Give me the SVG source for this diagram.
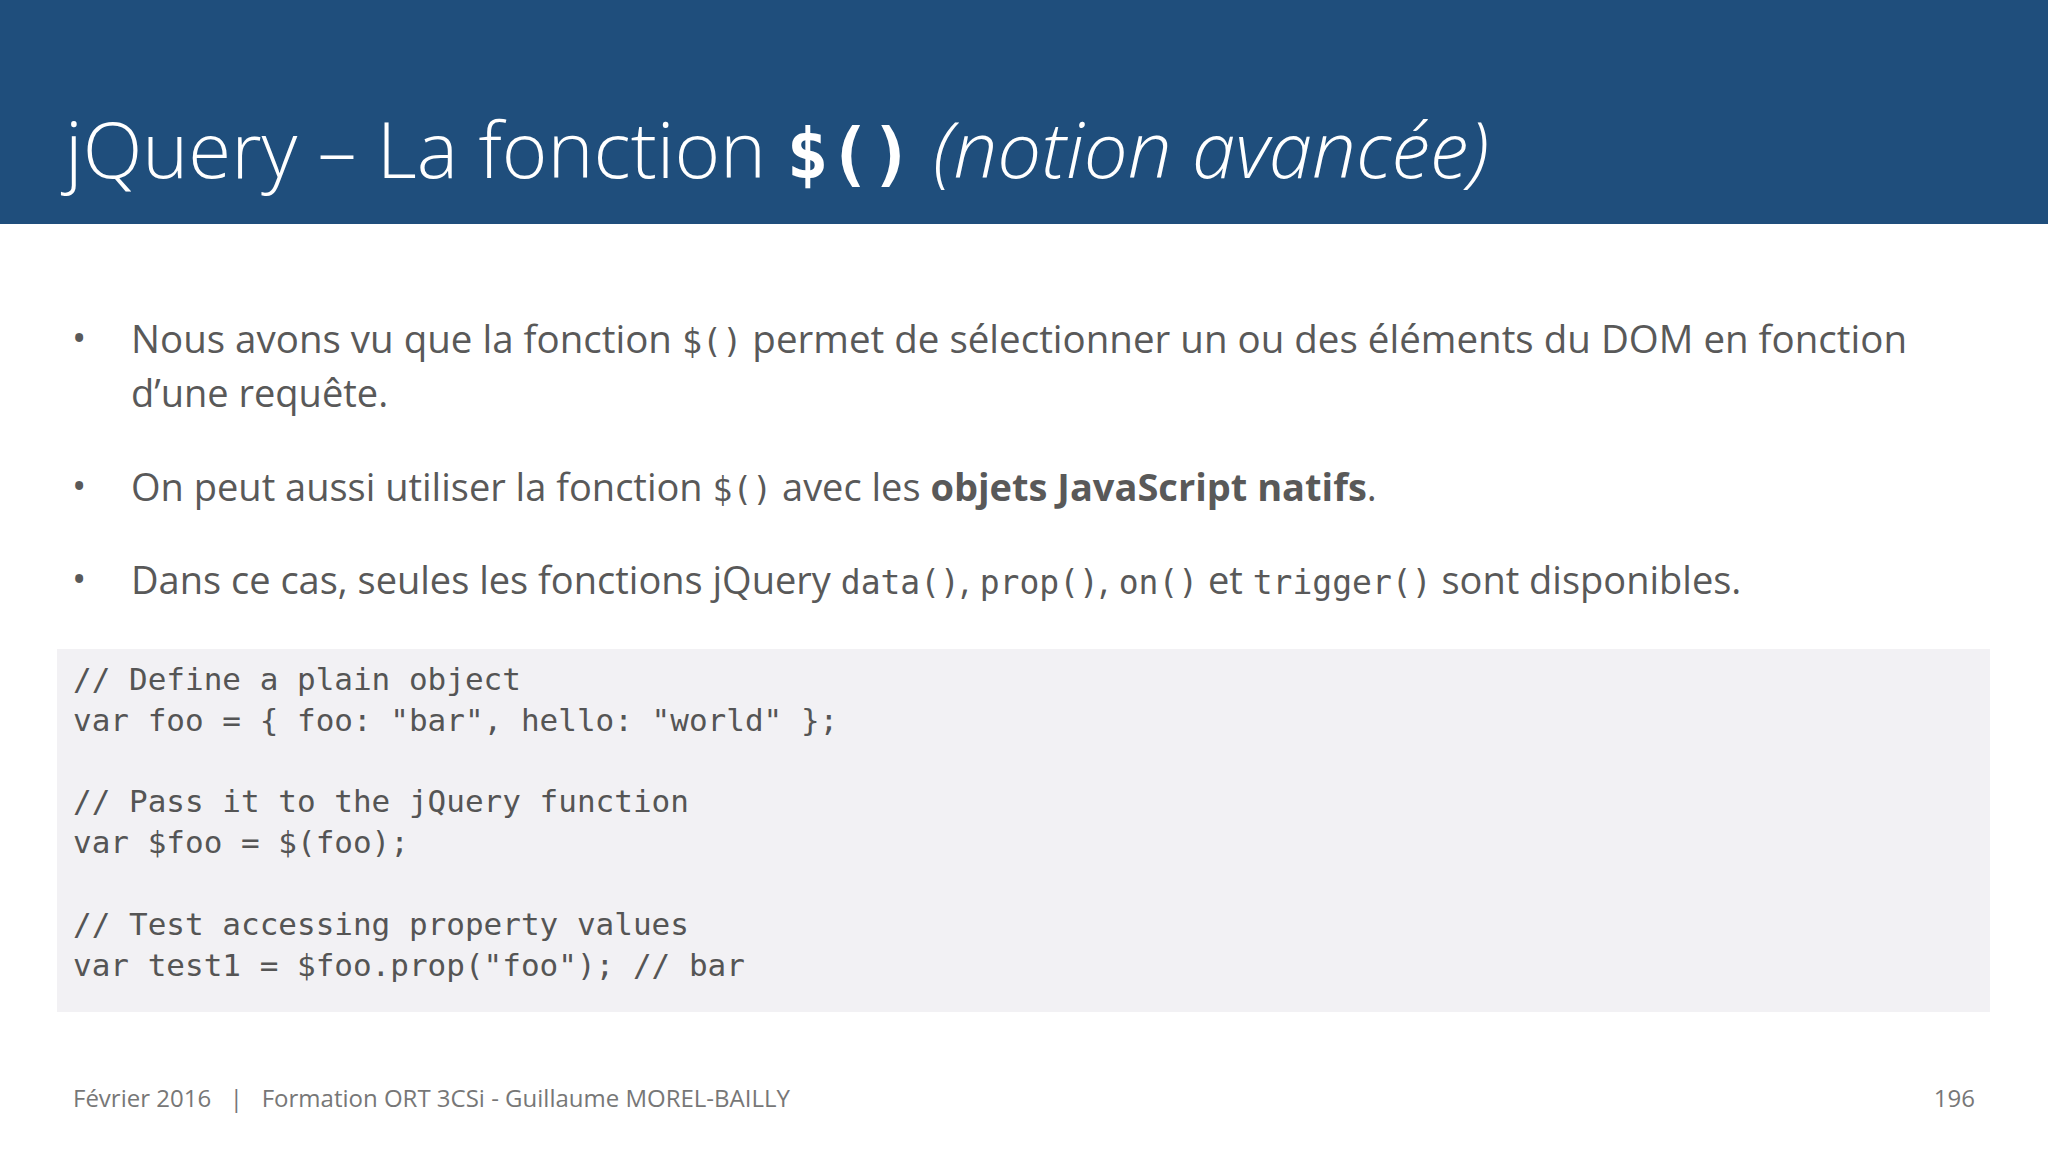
<svg xmlns="http://www.w3.org/2000/svg" width="2048" height="1152" viewBox="0 0 2048 1152">
<style>
.b{font-family:"Open Sans","Liberation Sans",sans-serif;font-size:38px;fill:#595959}
.m{font-family:"DejaVu Sans Mono","Liberation Mono",monospace;font-size:33px}
.c{font-family:"DejaVu Sans Mono","Liberation Mono",monospace;font-size:31px;fill:#555}
.f{font-family:"Open Sans","Liberation Sans",sans-serif;font-size:24px;fill:#777}
</style>
<rect width="2048" height="1152" fill="#fff"/>
<g id="header">
<rect width="2048" height="224" fill="#1f4e7c"/>
<text x="65" y="178" font-family="Open Sans,Liberation Sans,sans-serif" font-size="78" font-weight="300" fill="#fff">jQuery – La fonction <tspan font-family="DejaVu Sans Mono,Liberation Mono,monospace" font-weight="bold" font-size="70">$()</tspan> <tspan font-style="italic">(notion avancée)</tspan></text>
</g>
<g id="bullets">
<text class="b" x="72" y="352">•</text>
<text class="b" x="131" y="353" textLength="1776" lengthAdjust="spacingAndGlyphs">Nous avons vu que la fonction <tspan class="m">$()</tspan> permet de sélectionner un ou des éléments du DOM en fonction</text>
<text class="b" x="131" y="407">d’une requête.</text>
<text class="b" x="72" y="500">•</text>
<text class="b" x="131" y="501">On peut aussi  utiliser la fonction <tspan class="m">$()</tspan> avec les <tspan font-weight="bold">objets JavaScript natifs</tspan>.</text>
<text class="b" x="72" y="593">•</text>
<text class="b" x="131" y="594">Dans ce cas, seules les fonctions jQuery <tspan class="m">data()</tspan>, <tspan class="m">prop()</tspan>, <tspan class="m">on()</tspan> et <tspan class="m">trigger()</tspan> sont disponibles.</text>
</g>
<g id="code">
<rect x="57" y="649" width="1933" height="363" fill="#f2f1f4"/>
<text class="c" x="73" y="690">// Define a plain object</text>
<text class="c" x="73" y="731" xml:space="preserve">var foo = { foo: "bar", hello: "world" };</text>
<text class="c" x="73" y="812">// Pass it to the jQuery function</text>
<text class="c" x="73" y="853">var $foo = $(foo);</text>
<text class="c" x="73" y="935">// Test accessing property values</text>
<text class="c" x="73" y="976">var test1 = $foo.prop("foo"); // bar</text>
</g>
<g id="footer">
<text class="f" x="73" y="1107" xml:space="preserve">Février 2016   |   Formation ORT 3CSi - Guillaume MOREL-BAILLY</text>
<text class="f" x="1975" y="1107" text-anchor="end">196</text>
</g>
</svg>
